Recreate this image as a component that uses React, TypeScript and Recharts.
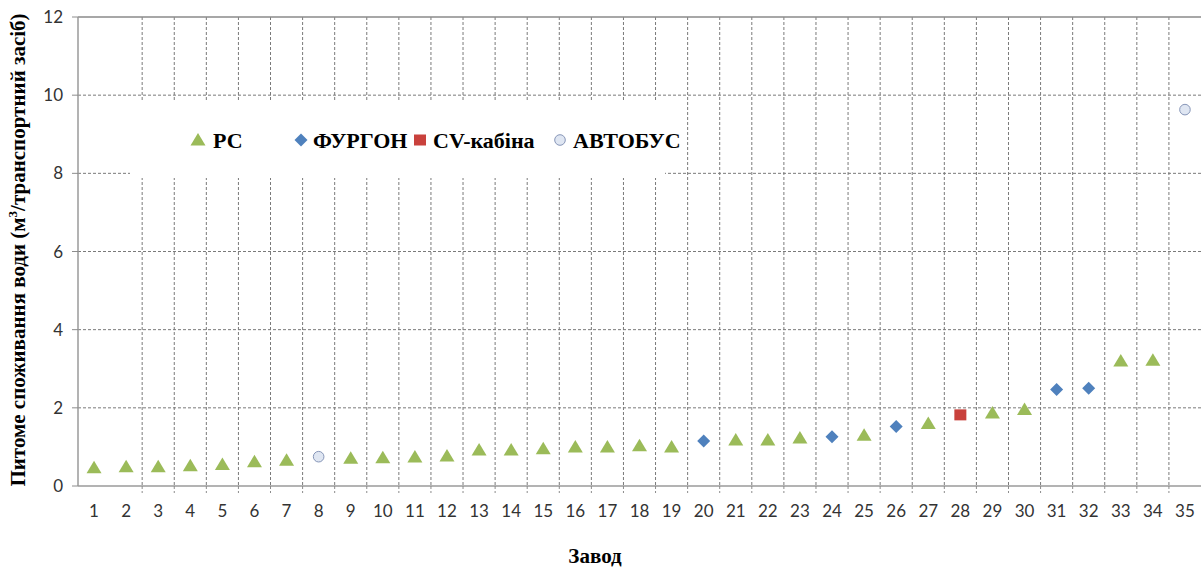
import React from 'react';
import {
  ScatterChart, Scatter, XAxis, YAxis, ZAxis, CartesianGrid, Legend, ReferenceLine, Label,
} from 'recharts';

const plants = [1, 2, 3, 4, 5, 6, 7, 8, 9, 10, 11, 12, 13, 14, 15, 16, 17, 18, 19, 20, 21, 22, 23, 24, 25, 26, 27, 28, 29, 30, 31, 32, 33, 34, 35];
const values = [0.47, 0.49, 0.49, 0.52, 0.55, 0.62, 0.66, 0.75, 0.71, 0.72, 0.74, 0.77, 0.92, 0.92, 0.95, 1.0, 1.0, 1.03, 1.0, 1.15, 1.18, 1.18, 1.23, 1.26, 1.30, 1.52, 1.60, 1.82, 1.87, 1.96, 2.47, 2.50, 3.20, 3.22, 9.63];
const types = ['РС', 'РС', 'РС', 'РС', 'РС', 'РС', 'РС', 'АВТОБУС', 'РС', 'РС', 'РС', 'РС', 'РС', 'РС', 'РС', 'РС', 'РС', 'РС', 'РС', 'ФУРГОН', 'РС', 'РС', 'РС', 'ФУРГОН', 'РС', 'ФУРГОН', 'РС', 'CV-кабіна', 'РС', 'РС', 'ФУРГОН', 'ФУРГОН', 'РС', 'РС', 'АВТОБУС'];
const seriesNames = ['РС', 'ФУРГОН', 'CV-кабіна', 'АВТОБУС'];
const yTicks = [0, 2, 4, 6, 8, 10, 12];
const gridTicks = [2.5, 3.5, 4.5, 5.5, 6.5, 7.5, 8.5, 9.5, 10.5, 11.5, 12.5, 13.5, 14.5, 15.5, 16.5, 17.5, 18.5, 19.5, 20.5, 21.5, 22.5, 23.5, 24.5, 25.5, 26.5, 27.5, 28.5, 29.5, 30.5, 31.5, 32.5, 33.5, 34.5];
const X_DOMAIN = [0.5, 35.5];

const GREEN = '#9bbb59';
const BLUE = '#4f81bd';
const RED = '#c9413c';
const CIRCLE_FILL = '#dfe6f2';
const CIRCLE_STROKE = '#8796b8';
const SERIF = "'Liberation Serif', 'Times New Roman', serif";

const rows = plants.map((p, i) => ({ x: p, y: values[i], type: types[i] }));
const seriesData = (name: string) => rows.filter((r) => r.type === name);

const Triangle = (props: any) => {
  const { cx, cy } = props;
  return <polygon points={`${cx},${cy - 7} ${cx - 7.5},${cy + 5.5} ${cx + 7.5},${cy + 5.5}`} fill={GREEN} />;
};
const Diamond = (props: any) => {
  const { cx, cy } = props;
  return <polygon points={`${cx},${cy - 6.5} ${cx + 6.5},${cy} ${cx},${cy + 6.5} ${cx - 6.5},${cy}`} fill={BLUE} />;
};
const Square = (props: any) => {
  const { cx, cy } = props;
  return <rect x={cx - 6} y={cy - 5.5} width={12} height={11} fill={RED} />;
};
const Circle = (props: any) => {
  const { cx, cy } = props;
  return <circle cx={cx} cy={cy} r={5.3} fill={CIRCLE_FILL} stroke={CIRCLE_STROKE} strokeWidth={1} />;
};

const shapes: Record<string, any> = {
  'РС': Triangle,
  'ФУРГОН': Diamond,
  'CV-кабіна': Square,
  'АВТОБУС': Circle,
};

const BAND = (1201 - 78) / 35;

const XTick = (props: any) => {
  const { x, y, payload, index } = props;
  return (
    <g>
      {index >= 1 && index <= 33 && (
        <line x1={x + BAND / 2} x2={x + BAND / 2} y1={y} y2={y + 7} stroke="#8c8c8c" strokeWidth={1} strokeDasharray="3 2" />
      )}
      <text x={x} y={y + 31} textAnchor="middle" fontFamily="Lato, sans-serif" fontSize={17} fill="#333">
        {payload.value}
      </text>
    </g>
  );
};

const legendItems = [
  { name: 'РС', mx: 68, tx: 83 },
  { name: 'ФУРГОН', mx: 171, tx: 183 },
  { name: 'CV-кабіна', mx: 290, tx: 303 },
  { name: 'АВТОБУС', mx: 430, tx: 443 },
];

const LegendContent = () => (
  <svg width={580} height={78}>
    {legendItems.map((it) => {
      const S = shapes[it.name];
      return (
        <g key={it.name}>
          <S cx={it.mx} cy={40} />
          <text x={it.tx} y={48} fontFamily={SERIF} fontWeight="bold" fontSize={22} fill="#000">
            {it.name}
          </text>
        </g>
      );
    })}
  </svg>
);

const verticalGen = (args: any) => {
  const { xAxis, offset } = args || {};
  if (xAxis && typeof xAxis.scale === 'function') {
    return gridTicks.map((t) => xAxis.scale(t));
  }
  const left = offset?.left ?? 78;
  const width = offset?.width ?? 1123;
  return gridTicks.map((t) => left + ((t - X_DOMAIN[0]) / (X_DOMAIN[1] - X_DOMAIN[0])) * width);
};

export default function App() {
  return (
    <div style={{ position: 'absolute', left: 0, top: 0, background: '#fff' }}>
      <ScatterChart width={1201} height={570} margin={{ top: 17, right: 0, left: 0, bottom: 0 }}>
        <CartesianGrid
          stroke="#7a7a7a"
          strokeDasharray="3 2"
          horizontalValues={[2, 4, 6, 8, 10]}
          verticalCoordinatesGenerator={verticalGen}
        />
        <XAxis
          type="number"
          dataKey="x"
          domain={X_DOMAIN}
          ticks={plants}
          interval={0}
          height={84}
          tickSize={0}
          tickMargin={0}
          tickLine={false}
          axisLine={{ stroke: '#9a9a9a', strokeWidth: 1.5 }}
          tick={<XTick />}
        >
          <Label
            content={() => (
              <text x={595} y={563} textAnchor="middle" fontFamily={SERIF} fontWeight="bold" fontSize={21} fill="#000">
                Завод
              </text>
            )}
          />
        </XAxis>
        <YAxis
          type="number"
          dataKey="y"
          domain={[0, 12]}
          ticks={yTicks}
          width={78}
          tickSize={6}
          tickMargin={9}
          tickLine={{ stroke: '#8c8c8c' }}
          axisLine={{ stroke: '#9a9a9a', strokeWidth: 1.5 }}
          tick={{ fontFamily: 'Lato, sans-serif', fontSize: 17, fill: '#333' }}
        >
          <Label
            content={() => (
              <text
                x={25}
                y={250}
                transform="rotate(-90 25 250)"
                textAnchor="middle"
                fontFamily={SERIF}
                fontWeight="bold"
                fontSize={21}
                fill="#000"
              >
                Питоме споживання води (м<tspan dy={-8} fontSize={13}>3</tspan><tspan dy={8}>/транспортний засіб)</tspan>
              </text>
            )}
          />
        </YAxis>
        <ZAxis range={[80, 80]} />
        <ReferenceLine y={12} stroke="#8a8a8a" strokeWidth={1.5} />
        {seriesNames.map((name) => (
          <Scatter
            key={name}
            name={name}
            data={seriesData(name)}
            shape={shapes[name]}
            isAnimationActive={false}
          />
        ))}
        <Legend
          layout="horizontal"
          verticalAlign="middle"
          content={<LegendContent />}
          wrapperStyle={{ position: 'absolute', left: 130, top: 100, width: 535, height: 78, background: '#fff', overflow: 'visible' }}
        />
      </ScatterChart>
    </div>
  );
}
